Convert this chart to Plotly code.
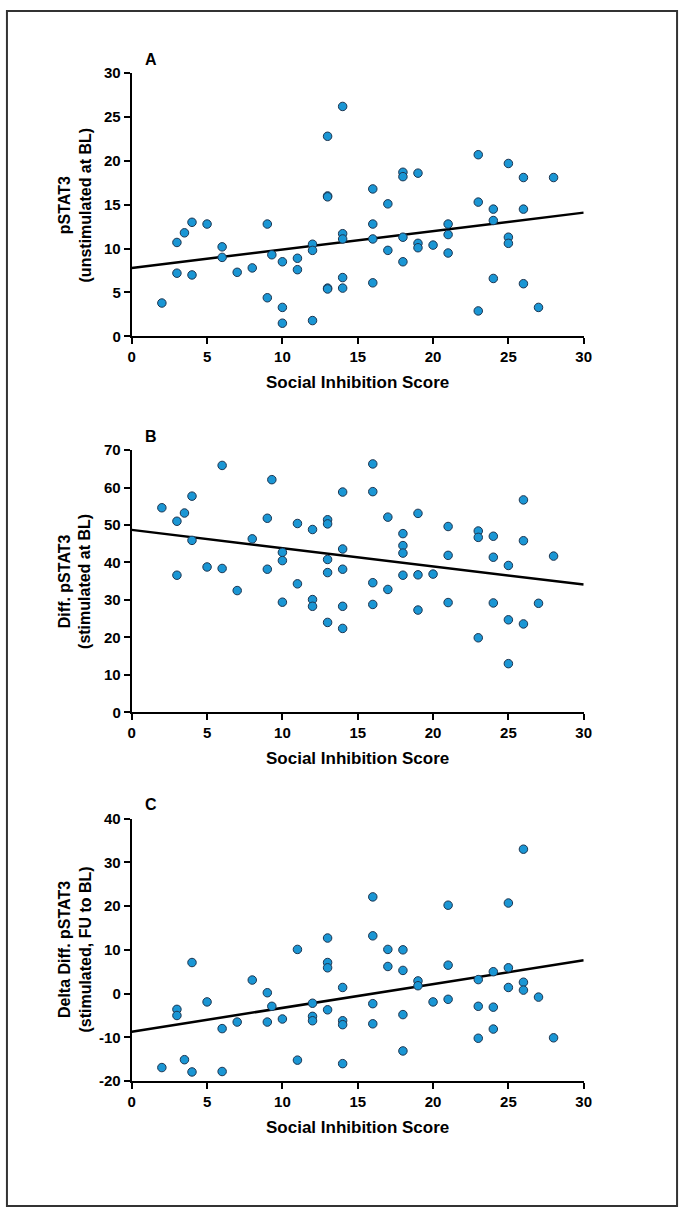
import plotly.graph_objects as go

# ---------------- data ----------------
xA = [2, 3, 3, 3.5, 4, 4, 5, 6, 6, 7, 8, 9, 9, 9.3, 10, 10, 10, 11, 11, 12, 12, 12,
      13, 13, 13, 13, 13, 14, 14, 14, 14, 14,
      16, 16, 16, 16, 17, 17, 18, 18, 18, 18, 19, 19, 19, 20, 21, 21, 21,
      23, 23, 23, 24, 24, 24, 25, 25, 25, 26, 26, 26, 27, 28]
yA = [3.8, 10.7, 7.2, 11.8, 13.0, 7.0, 12.8, 10.2, 9.0, 7.3, 7.8, 12.8, 4.4, 9.3, 8.5, 3.3, 1.5,
      8.9, 7.6, 10.5, 9.8, 1.8, 22.8, 16.0, 15.9, 5.5, 5.4, 26.2, 11.7, 11.1, 6.7, 5.5,
      16.8, 12.8, 11.1, 6.1, 15.1, 9.8, 18.7, 18.2, 11.3, 8.5, 18.6, 10.6, 10.1, 10.4,
      12.8, 11.6, 9.5, 20.7, 15.3, 2.9, 14.5, 13.2, 6.6, 19.7, 11.3, 10.6, 18.1, 14.5, 6.0, 3.3, 18.1]

xB = [2, 3, 3, 3.5, 4, 4, 5, 6, 6, 7, 8, 9, 9, 9.3, 10, 10, 10, 11, 11, 12, 12, 12,
      13, 13, 13, 13, 13, 14, 14, 14, 14, 14,
      16, 16, 16, 16, 17, 17, 18, 18, 18, 18, 19, 19, 19, 20, 21, 21, 21,
      23, 23, 23, 24, 24, 24, 25, 25, 25, 26, 26, 26, 27, 28]
yB = [54.6, 51.0, 36.6, 53.2, 57.7, 45.9, 38.8, 65.9, 38.4, 32.5, 46.3, 51.8, 38.2, 62.1,
      42.7, 40.5, 29.4, 50.4, 34.3, 48.8, 30.1, 28.3, 51.4, 50.3, 40.8, 37.3, 24.0,
      58.8, 43.6, 38.2, 28.3, 22.4,
      66.3, 58.9, 34.6, 28.8, 52.1, 32.8, 47.7, 44.5, 42.5, 36.6, 53.1, 36.7, 27.3, 36.9,
      49.6, 41.9, 29.3, 48.4, 46.7, 19.9, 47.0, 41.4, 29.2, 39.2, 24.7, 13.0,
      56.7, 45.8, 23.6, 29.1, 41.7]

xC = [2, 3, 3, 3.5, 4, 4, 5, 6, 6, 7, 8, 9, 9, 9.3, 10, 11, 11, 12, 12, 12,
      13, 13, 13, 13, 14, 14, 14, 14,
      16, 16, 16, 16, 17, 17, 18, 18, 18, 18, 19, 19, 20, 21, 21, 21,
      23, 23, 23, 24, 24, 24, 25, 25, 25, 26, 26, 26, 27, 28]
yC = [-16.9, -3.6, -5.0, -15.1, 7.1, -17.9, -1.9, -8.0, -17.8, -6.5, 3.1, 0.2, -6.5, -2.9,
      -5.8, 10.1, -15.2, -2.2, -5.2, -6.2, 12.7, 7.1, 5.9, -3.7, 1.4, -6.2, -7.1, -16.0,
      22.1, 13.2, -2.3, -6.9, 10.1, 6.2, 10.0, 5.3, -4.8, -13.1, 2.9, 1.8, -1.9,
      20.2, 6.5, -1.3, 3.2, -2.9, -10.2, 5.0, -3.1, -8.1, 20.7, 5.9, 1.4,
      33.0, 2.6, 0.8, -0.8, -10.1]

fit_x = [0, 30]
fitA = [7.8, 14.1]
fitB = [48.7, 34.1]
fitC = [-8.7, 7.6]

panel_letters = ["A", "B", "C"]
y_titles = ["pSTAT3<br>(unstimulated at BL)",
            "Diff. pSTAT3<br>(stimulated at BL)",
            "Delta Diff. pSTAT3<br>(stimulated, FU to BL)"]
x_title = "Social Inhibition Score"
x_ticks = [0, 5, 10, 15, 20, 25, 30]
y_ticks = [[0, 5, 10, 15, 20, 25, 30],
           [0, 10, 20, 30, 40, 50, 60, 70],
           [-20, -10, 0, 10, 20, 30, 40]]
y_ranges = [[0, 30], [0, 70], [-20, 40]]

# ---------------- layout geometry ----------------
W, H = 688, 1219
FONT = "Liberation Sans, Arial, sans-serif"
x_dom = [130 / W, 590 / W]
panels_px = [(65, 332), (447.3, 713.3), (821, 1087.3)]  # top, bottom in px

fig = go.Figure()
datasets = [(xA, yA, fitA), (xB, yB, fitB), (xC, yC, fitC)]

annotations = []
for i, ((xs, ys, fit), (top, bot)) in enumerate(zip(datasets, panels_px)):
    n = "" if i == 0 else str(i + 1)
    xa, ya = "x" + n, "y" + n
    fig.add_trace(go.Scatter(
        x=fit_x, y=fit, mode="lines", xaxis=xa, yaxis=ya,
        line=dict(color="black", width=2.5), showlegend=False, hoverinfo="skip"))
    fig.add_trace(go.Scatter(
        x=xs, y=ys, mode="markers", xaxis=xa, yaxis=ya,
        marker=dict(size=8.5, color="#1a96d4", line=dict(color="#1d3550", width=1)),
        showlegend=False, cliponaxis=False))
    axis_common = dict(showline=True, linecolor="black", linewidth=2,
                       ticks="outside", ticklen=6, tickwidth=2, tickcolor="black",
                       showgrid=False, zeroline=False,
                       tickfont=dict(family=FONT, size=15, color="black", weight="bold"))
    fig.layout["xaxis" + n] = dict(domain=x_dom, anchor=ya, range=[0, 30],
                                   tickvals=x_ticks, ticktext=[str(v) for v in x_ticks],
                                   **axis_common)
    fig.layout["yaxis" + n] = dict(domain=[1 - bot / H, 1 - top / H], anchor=xa,
                                   range=y_ranges[i], tickvals=y_ticks[i],
                                   ticktext=[str(v) for v in y_ticks[i]], **axis_common)
    # panel letter
    annotations.append(dict(text=panel_letters[i], xref="paper", yref="paper",
                            x=150 / W, y=1 - (top - 14) / H, showarrow=False,
                            xanchor="center", yanchor="middle",
                            font=dict(family=FONT, size=16, color="black", weight="bold")))
    # y title
    annotations.append(dict(text=y_titles[i], xref="paper", yref="paper",
                            x=72 / W, y=1 - (top + bot) / 2 / H, showarrow=False,
                            textangle=-90, xanchor="center", yanchor="middle",
                            font=dict(family=FONT, size=16, color="black", weight="bold")))
    # x title
    annotations.append(dict(text=x_title, xref="paper", yref="paper",
                            x=360 / W, y=1 - (bot + 47) / H, showarrow=False,
                            xanchor="center", yanchor="middle",
                            font=dict(family=FONT, size=17, color="black", weight="bold")))

fig.update_layout(
    width=W, height=H, margin=dict(l=0, r=0, t=0, b=0),
    paper_bgcolor="white", plot_bgcolor="white",
    annotations=annotations,
    shapes=[dict(type="rect", xref="paper", yref="paper",
                 x0=3 / W, x1=685 / W, y0=1 - 1214 / H, y1=1 - 2 / H,
                 line=dict(color="#333333", width=2))],
)

fig.write_html("out.html")
